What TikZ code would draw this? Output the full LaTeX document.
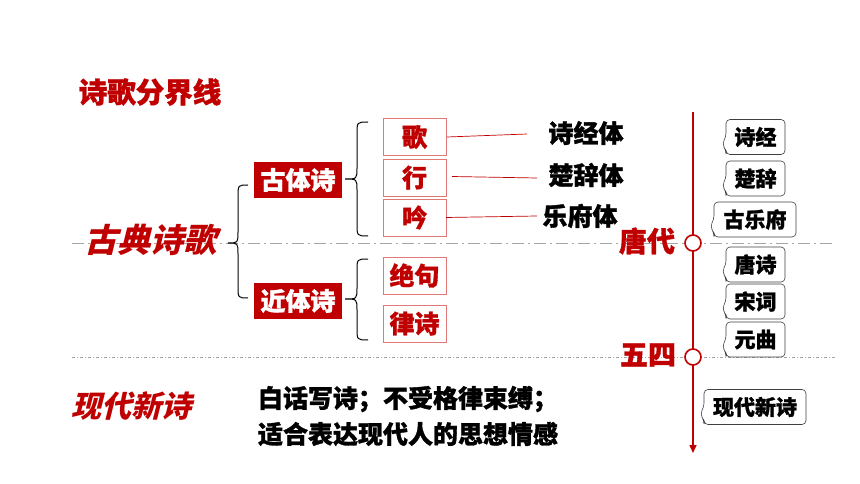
\documentclass[tikz,border=0pt]{standalone}
\usepackage{fontspec}
\newfontfamily\cjk{Noto Sans CJK SC}[BoldFeatures={FakeBold=1.2}]
\newfontfamily\cjkcal{Noto Sans CJK SC}[FakeSlant=0.25,BoldFeatures={FakeSlant=0.25}]
\usetikzlibrary{arrows.meta,calc}
\definecolor{dred}{HTML}{C00000}
\definecolor{lred}{HTML}{E07878}
\definecolor{lgray}{HTML}{A6A6A6}
\tikzset{
  every node/.style={inner sep=0pt, outer sep=0pt},
  title/.style={text=dred, font=\cjk\bfseries\fontsize{28.5}{28.5}\selectfont},
  calli/.style={text=dred, font=\cjkcal\bfseries\fontsize{33}{33}\selectfont},
  redbox/.style={fill=dred, text=white, minimum width=88pt, minimum height=36pt, font=\cjk\bfseries\fontsize{25}{25}\selectfont},
  formbox/.style={draw=lred, line width=0.8pt, fill=white, text=dred, minimum width=63pt, minimum height=37pt, font=\cjk\bfseries\fontsize{25}{25}\selectfont},
  blacklab/.style={text=black, font=\cjk\bfseries\fontsize{25}{25}\selectfont},
  era/.style={text=dred, font=\cjk\bfseries\fontsize{28}{28}\selectfont},
  body/.style={text=black, font=\cjk\bfseries\fontsize{25}{25}\selectfont, anchor=west},
  cotext/.style={text=black, font=\cjk\bfseries\fontsize{21}{21}\selectfont, minimum height=35pt},
  cobox/.style={draw=black!75, line width=0.6pt, rounded corners=4pt},
  thinred/.style={draw=dred, line width=0.7pt},
  brc/.style={draw=black, line width=1pt},
  divider/.style={draw=lgray, line width=0.8pt, dash pattern=on 12pt off 4pt on 2pt off 4pt},
  divider2/.style={draw=lgray, line width=0.8pt, dash pattern=on 3pt off 2pt on 1pt off 2pt},
  dot/.style={circle, draw=dred, fill=white, line width=1.6pt, minimum size=16pt},
}
\newcommand\mybrace[6]{% xe xm xt yt ym yb
  \draw[brc] (#1,#4) .. controls (#2,#4) .. (#2,#4+12) -- (#2,#5-11)
    .. controls (#2,#5) .. (#3,#5) .. controls (#2,#5) .. (#2,#5+11)
    -- (#2,#6-12) .. controls (#2,#6) .. (#1,#6);}
\newcommand\callout[5]{% name x y width text
  \node[cotext, minimum width=#4pt] (#1) at (#2,#3) {#5};
  \draw[cobox] (#1.north west) -- (#1.west) -- ($(#1.west)+(-4,7)$)
    -- ($(#1.west)+(0,13)$) -- (#1.south west) -- (#1.south east)
    -- (#1.north east) -- cycle;}
\begin{document}
\begin{tikzpicture}[x=1pt, y=-1pt]
\useasboundingbox (0,0) rectangle (860,484);
\fill[white] (0,0) rectangle (860,484);

% dividers
\coordinate (d1a) at (72,243);
\coordinate (d1b) at (835,243);
\coordinate (d2a) at (72,357);
\coordinate (d2b) at (835,357);
\draw[divider] (d1a) -- (d1b);
\draw[divider2] (d2a) -- (d2b);

% title
\node[title] (title) at (150,92) {诗歌分界线};

% left calligraphic labels
\node[calli] (gudian) at (150,240) {古典诗歌};
\node[calli, font=\cjkcal\bfseries\fontsize{30}{30}\selectfont] (xiandai) at (131,406) {现代新诗};

% braces
\mybrace{248}{238}{228}{185}{243}{298}
\mybrace{368}{357}{345}{122}{179}{236}
\mybrace{368}{357}{345}{259}{299}{340}

% red boxes
\node[redbox] (gt) at (298,180) {古体诗};
\node[redbox] (jt) at (298,301) {近体诗};

% form boxes
\node[formbox] (ge) at (414.5,137) {歌};
\node[formbox] (xing) at (414.5,177.5) {行};
\node[formbox] (yin) at (414.5,217.5) {吟};
\node[formbox] (jj) at (414.5,275.5) {绝句};
\node[formbox] (ls) at (414.5,323.5) {律诗};

% labels
\node[blacklab] (sjt) at (586,133) {诗经体};
\node[blacklab] (cct) at (586,175) {楚辞体};
\node[blacklab] (yft) at (580,216) {乐府体};

\coordinate (e1) at (527,134);
\coordinate (e2) at (537,178);
\coordinate (e3) at (537,216);
\draw[thinred] ($(ge.east)+(1,0)$) -- (e1);
\draw[thinred] ($(xing.east)+(6,-1)$) -- (e2);
\draw[thinred] (yin.east) -- (e3);

% timeline
\coordinate (ttop) at (693,112);
\coordinate (tbot) at (693,453);
\draw[draw=dred, line width=1.6pt, -{Triangle[length=8pt,width=7pt]}] (ttop) -- (tbot);
\node[dot] (c1) at (693,243) {};
\node[dot] (c2) at (693,357) {};
\node[era] (tang) at (647,241) {唐代};
\node[era] (wusi) at (648,355) {五四};

% callouts
\callout{co1}{755.5}{137}{59}{诗经}
\callout{co2}{755.5}{178.5}{59}{楚辞}
\callout{co3}{755}{219.5}{82}{古乐府}
\callout{co4}{755.5}{264.5}{59}{唐诗}
\callout{co5}{755.5}{301.5}{59}{宋词}
\callout{co6}{755.5}{339.5}{59}{元曲}
\callout{co7}{755}{407}{102}{现代新诗}

% body text
\node[body] (b1) at (258,399) {白话写诗；不受格律束缚；};
\node[body] (b2) at (258,434) {适合表达现代人的思想情感};
\end{tikzpicture}
\end{document}
